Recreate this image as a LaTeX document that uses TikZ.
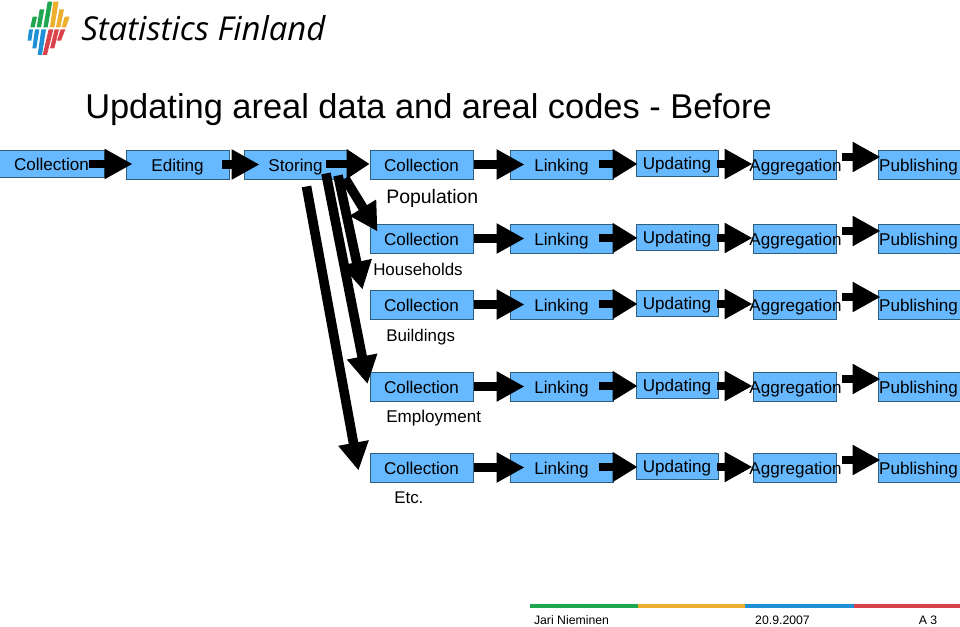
\documentclass[tikz,border=0pt]{standalone}
\usepackage{fontspec}
\setmainfont{Liberation Sans}
\newfontfamily\logofont{Open Sans}
\usetikzlibrary{arrows.meta,calc}
\definecolor{boxfill}{HTML}{66B8FF}
\definecolor{boxedge}{HTML}{2E5E7E}
\definecolor{sfgreen}{HTML}{1FA650}
\definecolor{sfyellow}{HTML}{EDB02E}
\definecolor{sfblue}{HTML}{1E90D6}
\definecolor{sfred}{HTML}{D8434B}
\newcommand{\ctr}[1]{\makebox[0pt]{#1}}
\tikzset{
  pbox/.style 2 args={draw=boxedge,fill=boxfill,line width=.7pt,inner sep=0pt,
    minimum width=#1*.75pt,minimum height=#2*.75pt,
    text height=12.8pt,text depth=3pt,font=\fontsize{12.8pt}{15pt}\selectfont},
  bigarrow/.style={line width=6.6pt,draw=black,
    -{Triangle[length=#1*.75pt,width=28.5*.75pt]}},
  bigarrow/.default=28,
  diagarrow/.style={line width=7.2pt,draw=black,
    -{Triangle[length=28*.75pt,width=29*.75pt]}},
  lab/.style={anchor=base west,inner sep=0pt},
  foot/.style={anchor=base,inner sep=0pt,font=\fontsize{9.2pt}{11pt}\selectfont},
  footline/.style={line width=2.4pt}
}
\begin{document}
\begin{tikzpicture}[x=.75pt,y=-.75pt]
\useasboundingbox (0,0) rectangle (960,627);
% logo
\begin{scope}[shift={(20,0)},x=.25pt,y=-.25pt]
\fill[sfgreen] (31,82)--(44,82)--(51,50)--(38,50)--cycle;
\fill[sfgreen] (50,82)--(63,82)--(73,28)--(59,28)--cycle;
\fill[sfgreen] (70,82)--(83,82)--(97,5)--(83,5)--cycle;
\fill[sfyellow] (90,82)--(103,82)--(116,5)--(100,5)--cycle;
\fill[sfyellow] (108,82)--(121,82)--(132,28)--(118,28)--cycle;
\fill[sfyellow] (125,82)--(138,82)--(149,50)--(134,50)--cycle;
\fill[sfblue] (27,88)--(39,88)--(34,122)--(23,122)--cycle;
\fill[sfblue] (45,88)--(58,88)--(49,145)--(37,145)--cycle;
\fill[sfblue] (64,88)--(78,88)--(66,165)--(53,165)--cycle;
\fill[sfred] (86,88)--(100,88)--(81,165)--(68,165)--cycle;
\fill[sfred] (104,88)--(117,88)--(103,145)--(90,145)--cycle;
\fill[sfred] (122,88)--(136,88)--(123,122)--(111,122)--cycle;
\end{scope}
\node[lab] (logotext) at (81,41) {\logofont\itshape\fontsize{24.7pt}{30pt}\selectfont Statistics Finland};
\node[lab] (title) at (85,119) {\fontsize{25.8pt}{31pt}\selectfont Updating areal data and areal codes - Before};
% first three boxes
\node[pbox={105}{27}] (e0) at (51.5,163.5) {\ctr{Collection}};
\node[pbox={103}{29}] (e1) at (177.5,164.5) {\ctr{Editing}};
\node[pbox={103}{29}] (s) at (295.5,164.5) {\ctr{Storing}};
% rows
\foreach \r/\dy in {1/0,2/74,3/140,4/222,5/303}{
  \node[pbox={103}{29}] (c\r) at (421.5,164.5+\dy) {\ctr{Collection}};
  \node[pbox={103}{29}] (l\r) at (561.5,164.5+\dy) {\ctr{Linking}};
  \node[pbox={82}{26.5}] (u\r) at (677,163.25+\dy) {\ctr{Updating}};
  \node[pbox={83}{29}] (a\r) at (794.5,164.5+\dy) {\ctr{Aggregation\hspace{-1.5pt}}};
  \node[pbox={84}{29}] (p\r) at (920,164.5+\dy) {\ctr{Publishing\hspace{2.2pt}}};
}
% labels
\node[lab,font=\fontsize{14.6pt}{17pt}\selectfont] (n1) at (386,204) {Population};
\node[lab,font=\fontsize{12.7pt}{15pt}\selectfont] (n2) at (373,276) {Households};
\node[lab,font=\fontsize{12.7pt}{15pt}\selectfont] (n3) at (386,341) {Buildings};
\node[lab,font=\fontsize{12.8pt}{15pt}\selectfont] (n4) at (386,422) {Employment};
\node[lab,font=\fontsize{12.7pt}{15pt}\selectfont] (n5) at (394,503) {Etc.};
% arrows
\draw[bigarrow] ($(e0.east)+(-15,.5)$) -- ($(e1.west)+(7,-.5)$);
\draw[bigarrow] ($(e1.east)+(-7,0)$) -- ($(s.west)+(16,0)$);
\draw[bigarrow=23] ($(s.east)+(-21,-.5)$) -- ($(c1.west)+(0,-.5)$);
\foreach \r in {1,2,3,4,5}{
  \draw[bigarrow] ($(c\r.east)+(1,0)$) -- ($(l\r.west)+(15,0)$);
  \draw[bigarrow=25] ($(l\r.east)+(-14,-.5)$) -- ($(u\r.west)+(2,.75)$);
  \draw[bigarrow] ($(u\r.east)+(-1,.75)$) -- ($(a\r.west)+(0,-.5)$);
  \draw[bigarrow] ($(a\r.east)+(6,-7.5)$) -- ($(p\r.west)+(3,-7.5)$);
}
\draw[diagarrow] ($(s.south)+(49.5,-1)$) -- ($(c2.north west)+(8,8)$);
\draw[diagarrow] ($(s.south)+(42.5,-4)$) -- ($(c3.north west)+(-7,0)$);
\draw[diagarrow] ($(s.south)+(30.5,-6)$) -- ($(c4.west)+(-2,-2.5)$);
\draw[diagarrow] ($(s.south)+(11,7)$) -- ($(c5.north west)+(-11,18)$);
% footer
\draw[footline,sfgreen] (530,606) -- (638,606);
\draw[footline,sfyellow] (638,606) -- (745,606);
\draw[footline,sfblue] (745,606) -- (854,606);
\draw[footline,sfred] (854,606) -- (960,606);
\node[foot] (f1) at (571.5,624.5) {Jari Nieminen};
\node[foot] (f2) at (782.5,624.5) {20.9.2007};
\node[foot] (f3) at (928,624.5) {A 3};
\end{tikzpicture}
\end{document}
